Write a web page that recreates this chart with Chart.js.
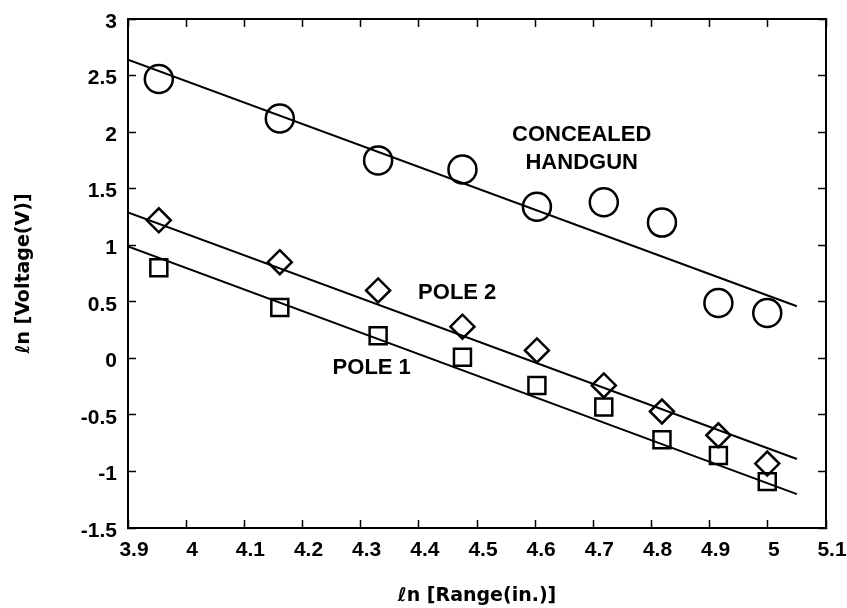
<!DOCTYPE html>
<html>
<head>
<meta charset="utf-8">
<script src="https://cdn.jsdelivr.net/npm/chart.js@4.4.1/dist/chart.umd.min.js"></script>
<style>
  html, body { margin: 0; padding: 0; background: #fff; }
  #wrap { width: 847px; height: 608px; }
</style>
</head>
<body>
<div id="wrap"><canvas id="chart"></canvas></div>
<script>
// ------------------------------------
// DATA
// ------------------------------------
const rangeLn = [3.953, 4.161, 4.330, 4.475, 4.603, 4.718, 4.818, 4.915, 4.999];

const handgunV = [2.47, 2.12, 1.75, 1.67, 1.34, 1.38, 1.20, 0.49, 0.40];
const pole2V = [1.22, 0.85, 0.60, 0.28, 0.07, -0.24, -0.47, -0.68, -0.93];
const pole1V = [0.80, 0.45, 0.20, 0.01, -0.24, -0.43, -0.72, -0.86, -1.09];

// fitted lines: end points
const fitX = [3.9, 5.05];
const handgunFit = [2.64, 0.46];
const pole2Fit = [1.29, -0.89];
const pole1Fit = [0.99, -1.20];

// text labels in the plot
const labelText = [["CONCEALED", "HANDGUN"], ["POLE 2"], ["POLE 1"]];
const labelX = [4.680, 4.466, 4.319];
const labelY = [1.85, 0.577, -0.086];

// ------------------------------------
// HELPERS
// ------------------------------------
const toPoints = (xs, ys) => xs.map((x, i) => ({ x: x, y: ys[i] }));
const fmt = v => String(Math.round(v * 10) / 10);

function marker(label, ys, style, r) {
    return {
        type: "scatter",
        label: label,
        data: toPoints(rangeLn, ys),
        pointStyle: style,
        pointRadius: r,
        pointBorderWidth: 2.5,
        pointBorderColor: "#000",
        pointBackgroundColor: "rgba(0,0,0,0)"
    };
}

function fitLine(label, ys) {
    return {
        type: "line",
        label: label,
        data: toPoints(fitX, ys),
        borderColor: "#000",
        borderWidth: 2,
        pointRadius: 0,
        fill: false
    };
}

const tickFont = { family: "'Liberation Sans', Arial, sans-serif", size: 21, weight: "bold" };
const titleFont = { family: "'DejaVu Sans', sans-serif", size: 19, weight: "bold" };

// fixed box sizes so the plot area sits where it does in the figure
function fixSize(prop, val) {
    return s => {
        s[prop] = val;
        s.paddingTop = 0; s.paddingBottom = 0;
        s.paddingLeft = 0; s.paddingRight = 0;
    };
}

function axisBase(extra) {
    return Object.assign({
        type: "linear",
        border: { display: true, color: "#000", width: 2 },
        grid: { drawOnChartArea: false, drawTicks: true, tickLength: -8, color: "#000", tickWidth: 1.5 }
    }, extra);
}

// ------------------------------------
// LABEL PLUGIN
// ------------------------------------
const textLabels = {
    id: "textLabels",
    afterDatasetsDraw(chart) {
        const ctx = chart.ctx;
        const xs = chart.scales.x;
        const ys = chart.scales.y;
        ctx.save();
        ctx.fillStyle = "#000";
        ctx.font = "bold 22px 'Liberation Sans', Arial, sans-serif";
        ctx.textAlign = "center";
        ctx.textBaseline = "middle";
        labelText.forEach((lines, i) => {
            const px = xs.getPixelForValue(labelX[i]);
            const py = ys.getPixelForValue(labelY[i]);
            const lh = 28;
            lines.forEach((t, j) => {
                ctx.fillText(t, px, py + (j - (lines.length - 1) / 2) * lh);
            });
        });
        ctx.restore();
    }
};

// ------------------------------------
// CHART
// ------------------------------------
new Chart(document.getElementById("chart"), {
    data: {
        datasets: [
            fitLine("Handgun fit", handgunFit),
            fitLine("Pole 2 fit", pole2Fit),
            fitLine("Pole 1 fit", pole1Fit),
            marker("Concealed handgun", handgunV, "circle", 14),
            marker("Pole 2", pole2V, "rectRot", 12),
            marker("Pole 1", pole1V, "rect", 12)
        ]
    },
    options: {
        responsive: true,
        maintainAspectRatio: false,
        animation: false,
        devicePixelRatio: 1,
        layout: { padding: 0 },
        plugins: {
            legend: { display: false },
            tooltip: { enabled: false }
        },
        scales: {
            x: axisBase({
                position: "bottom",
                min: 3.9, max: 5.1,
                ticks: { stepSize: 0.1, padding: 18, labelOffset: 6, color: "#000", font: tickFont, callback: fmt, maxRotation: 0, autoSkip: false },
                title: { display: true, text: "ℓn [Range(in.)]", color: "#000", font: titleFont, padding: { top: 0, bottom: 1 } },
                afterFit: fixSize("height", 80)
            }),
            x2: axisBase({
                position: "top",
                min: 3.9, max: 5.1,
                ticks: { stepSize: 0.1, display: false },
                afterFit: fixSize("height", 19)
            }),
            y: axisBase({
                position: "left",
                min: -1.5, max: 3,
                ticks: { stepSize: 0.5, padding: 19, labelOffset: 3, color: "#000", font: tickFont, callback: fmt },
                title: { display: true, text: "ℓn [Voltage(V)]", color: "#000", font: titleFont, padding: { top: 13, bottom: 0 } },
                afterFit: fixSize("width", 128)
            }),
            y2: axisBase({
                position: "right",
                min: -1.5, max: 3,
                ticks: { stepSize: 0.5, display: false },
                afterFit: fixSize("width", 21)
            })
        }
    },
    plugins: [textLabels]
});
</script>
</body>
</html>
